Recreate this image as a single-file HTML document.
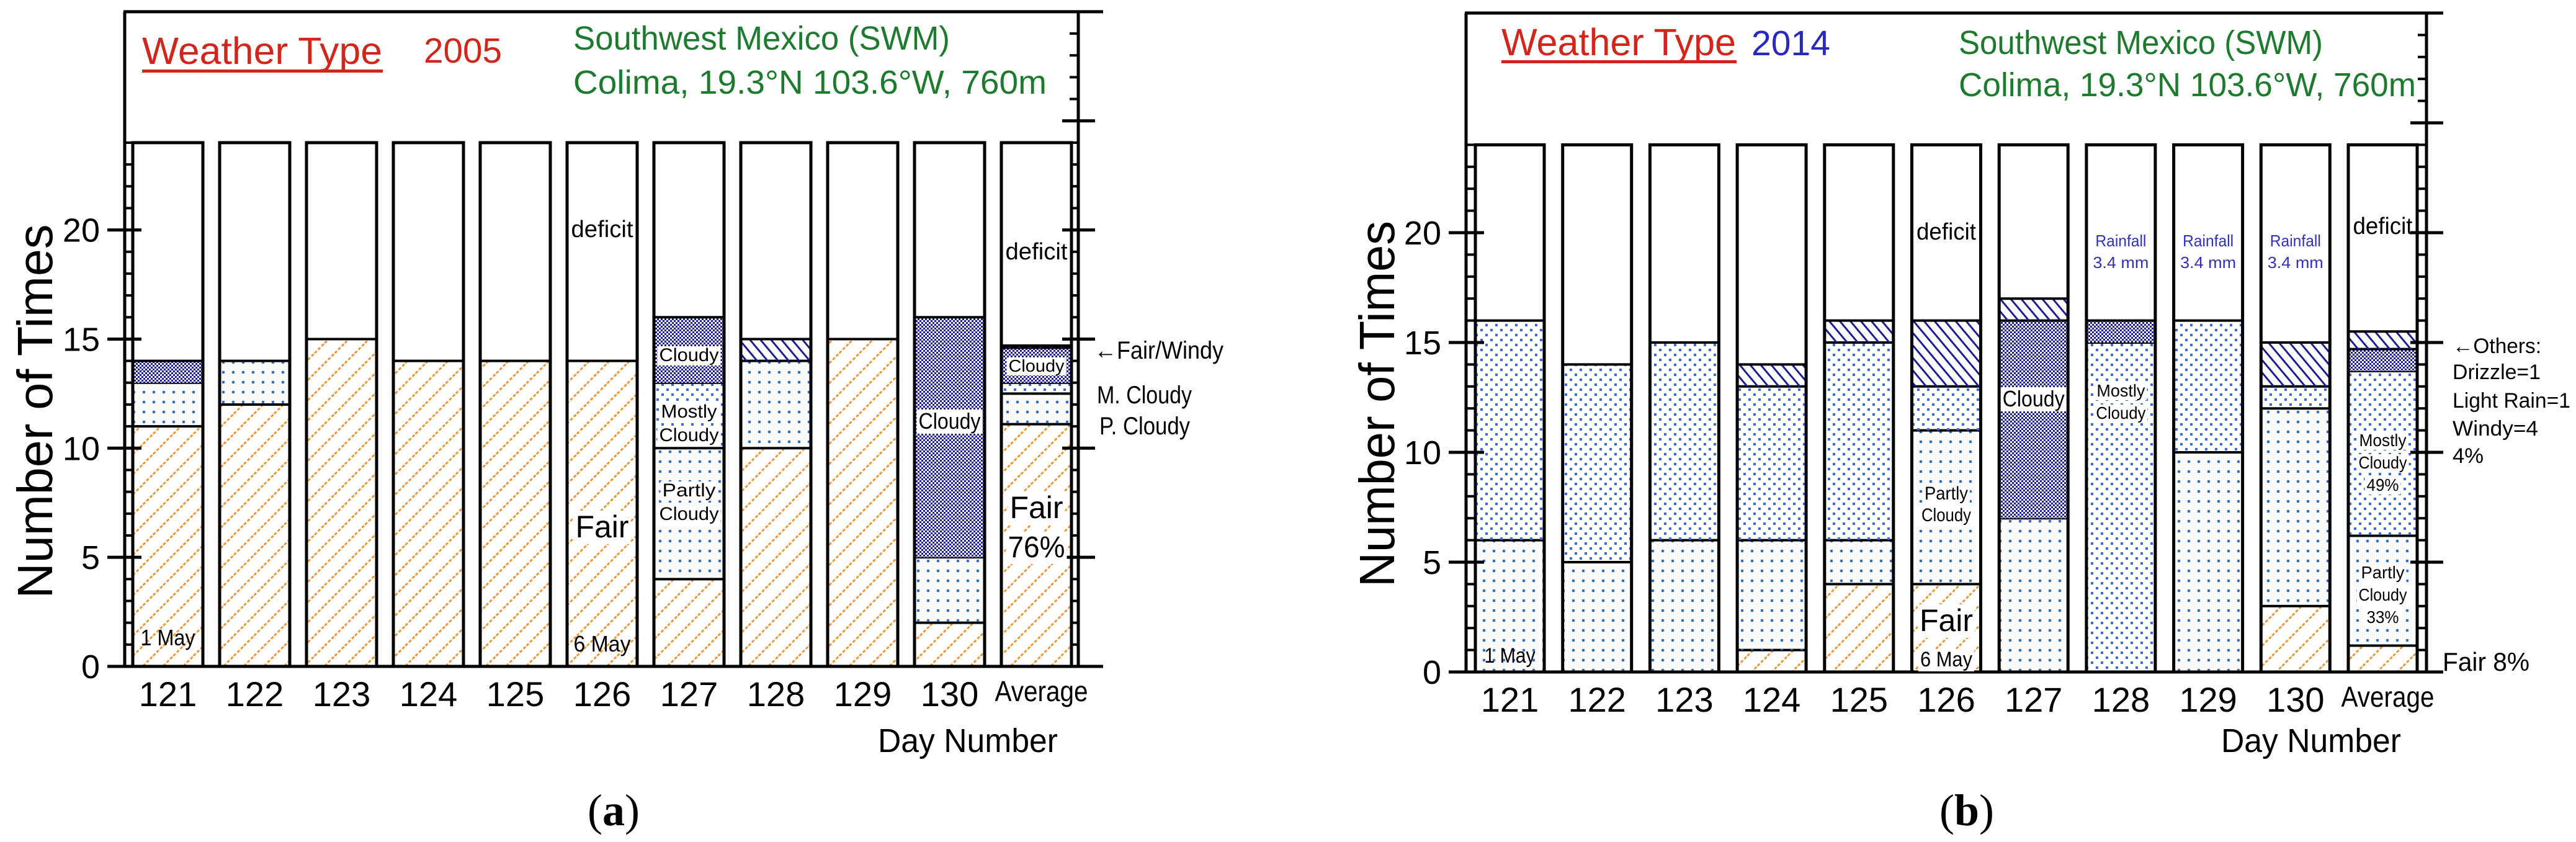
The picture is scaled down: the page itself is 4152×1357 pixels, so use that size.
<!DOCTYPE html>
<html><head><meta charset="utf-8"><style>
html,body{margin:0;padding:0;background:#fff;}
svg{display:block;font-family:"Liberation Sans",sans-serif;}
</style></head><body>
<svg id="chart" xmlns="http://www.w3.org/2000/svg" width="4152" height="1357" viewBox="0 0 4152 1357">
<defs>
<pattern id="pFair" patternUnits="userSpaceOnUse" width="23" height="23" patternTransform="rotate(45)">
<line x1="2" y1="0" x2="2" y2="23" stroke="#e8983c" stroke-width="3" stroke-dasharray="5 3"/></pattern>
<pattern id="pPC" patternUnits="userSpaceOnUse" width="16" height="16">
<rect x="6" y="6" width="4" height="4" fill="#3f6ad6"/></pattern>
<pattern id="pMC" patternUnits="userSpaceOnUse" width="16" height="16">
<rect x="2" y="2" width="4" height="4" fill="#3f6ad6"/><rect x="10" y="10" width="4" height="4" fill="#3f6ad6"/></pattern>
<pattern id="pCl" patternUnits="userSpaceOnUse" width="6" height="6">
<rect width="6" height="6" fill="#fff"/><rect x="0" y="0" width="3" height="3" fill="#1c1c96"/><rect x="3" y="3" width="3" height="3" fill="#1c1c96"/></pattern>
<pattern id="pW" patternUnits="userSpaceOnUse" width="13" height="13" patternTransform="rotate(-40)">
<line x1="2" y1="0" x2="2" y2="13" stroke="#1c1c96" stroke-width="3"/></pattern>
</defs>
<g id="panelA"></g>
<g id="panelB"></g>
</svg>
<script>
const categories = ['121','122','123','124','125','126','127','128','129','130','Average'];
const yTicks = [0,5,10,15,20];
// Panel a (2005)
const fairA    = [11,12,15,14,14,14,4,10,15,2,11.1];
const pcloudyA = [2,2,0,0,0,0,6,4,0,3,1.4];
const mcloudyA = [0,0,0,0,0,0,3,0,0,0,0.5];
const cloudyA  = [1,0,0,0,0,0,3,0,0,11,1.6];
const windyA   = [0,0,0,0,0,0,0,1,0,0,0.1];
// Panel b (2014)
const fairB    = [0,0,0,1,4,4,0,0,0,3,1.2];
const pcloudyB = [6,5,6,5,2,7,7,0,10,9,5.0];
const mcloudyB = [10,9,9,7,9,2,0,15,6,1,7.5];
const cloudyB  = [0,0,0,0,0,0,9,1,0,0,1.0];
const othersB  = [0,0,0,1,1,3,1,0,0,2,0.8];
const maxCount = 24;

const NS='http://www.w3.org/2000/svg';
function mk(parent,tag,attrs,text){
  const e=document.createElementNS(NS,tag);
  for(const k in attrs) e.setAttribute(k,attrs[k]);
  if(text!==undefined) e.textContent=text;
  parent.appendChild(e); return e;
}
function txt(parent,name,x,y,s,size,opts){
  opts=opts||{};
  const t=mk(parent,'text',{x:x,y:y,'font-size':size,fill:opts.fill||'#000','text-anchor':opts.anchor||'middle'},s);
  if(opts.len){t.setAttribute('textLength',opts.len);t.setAttribute('lengthAdjust','spacingAndGlyphs');}
  if(opts.tr) t.setAttribute('transform',opts.tr);
  
  
  if(opts.bg){
    const b=t.getBBox();
    const r=document.createElementNS(NS,'rect');
    r.setAttribute('x',b.x-3);r.setAttribute('y',b.y+2);r.setAttribute('width',b.width+6);r.setAttribute('height',b.height-2);r.setAttribute('fill','#fff');
    
    
    parent.insertBefore(r,t);
  }
  return t;
}

function drawPanel(g,cfg,series){
  const y=v=>cfg.zeroY-v*cfg.unit;
  const xb=i=>cfg.x0+i*cfg.step;
  const rightEnd=cfg.rightEnd;
  // bars
  categories.forEach((c,i)=>{
    const bx=xb(i);
    const bg=mk(g,'g',{});
    
    
    const outline=mk(bg,'rect',{x:bx,y:y(maxCount),width:cfg.bw,height:maxCount*cfg.unit,fill:'#fff'});
    
    
    let base=0;
    series.forEach(s=>{
      const v=s.values[i];
      if(v>0){
        const r=mk(bg,'rect',{x:bx,y:y(base+v),width:cfg.bw,height:v*cfg.unit,fill:'url(#'+s.pat+')'});
        
        
        base+=v;
        const l=mk(bg,'line',{x1:bx,x2:bx+cfg.bw,y1:y(base),y2:y(base),stroke:'#000','stroke-width':4});
        
        
      }
    });
    const o=mk(bg,'rect',{x:bx,y:y(maxCount),width:cfg.bw,height:maxCount*cfg.unit,fill:'none',stroke:'#000','stroke-width':5});
    
    
    const isAvg=c==='Average';
    txt(g,'x-tick-label',bx+cfg.bw/2+(isAvg?8:0),cfg.zeroY+(isAvg?56:64),c,isAvg?46:56,isAvg?{len:150}:{});
  });
  const ax=mk(g,'g',{stroke:'#000','stroke-width':5,fill:'none'});
  
  
  mk(ax,'line',{x1:cfg.frameL,x2:cfg.frameL,y1:y(30),y2:cfg.zeroY});
  mk(ax,'line',{x1:cfg.x0,x2:cfg.x0,y1:y(24),y2:cfg.zeroY});
  mk(ax,'line',{x1:cfg.frameL-2,x2:rightEnd,y1:y(30),y2:y(30)});
  mk(ax,'line',{x1:cfg.frameL-28,x2:rightEnd,y1:cfg.zeroY,y2:cfg.zeroY});
  mk(ax,'line',{x1:cfg.rAxis,x2:cfg.rAxis,y1:y(30),y2:cfg.zeroY});
  const lastR=xb(categories.length-1)+cfg.bw;
  mk(ax,'line',{x1:lastR,x2:lastR,y1:y(24),y2:cfg.zeroY});
  for(let v=1;v<30;v++){
    if(v<=24){
      mk(ax,'line',{x1:cfg.frameL,x2:cfg.x0,y1:y(v),y2:y(v),'stroke-width':4});
      mk(ax,'line',{x1:lastR,x2:cfg.rAxis,y1:y(v),y2:y(v),'stroke-width':4});
    } else {
      mk(ax,'line',{x1:cfg.rAxis-14,x2:cfg.rAxis,y1:y(v),y2:y(v),'stroke-width':4});
    }
  }
  yTicks.concat([25]).forEach(v=>{
    if(v===0) return;
    if(v<25) mk(ax,'line',{x1:cfg.frameL-28,x2:cfg.x0+14,y1:y(v),y2:y(v)});
    mk(ax,'line',{x1:cfg.rAxis-26,x2:cfg.rAxis+27,y1:y(v),y2:y(v)});
  });
  yTicks.forEach(v=>{
    txt(g,'y-tick-label',cfg.frameL-40,y(v)+19,String(v),54,{anchor:'end'});
  });
  txt(g,'y-axis-title',0,0,'Number of Times',80,{len:cfg.titleLen,tr:'translate('+cfg.titleX+','+cfg.titleY+') rotate(-90)'});
  txt(g,'x-axis-title',cfg.dayX,1212,'Day Number',54,{len:290});
}

const gA=document.getElementById('panelA');
const gB=document.getElementById('panelB');
const cfgA={frameL:201,x0:214,step:140,bw:113,zeroY:1074,unit:35.17,rAxis:1738,rightEnd:1778,titleX:84,titleY:663,titleLen:603,dayX:1560};
const cfgB={frameL:2363,x0:2378,step:140.7,bw:111,zeroY:1083,unit:35.4,rAxis:3911,rightEnd:3938,titleX:2247,titleY:651,titleLen:590,dayX:3725};
drawPanel(gA,cfgA,[
  {name:'fair',pat:'pFair',values:fairA},
  {name:'partly-cloudy',pat:'pPC',values:pcloudyA},
  {name:'mostly-cloudy',pat:'pMC',values:mcloudyA},
  {name:'cloudy',pat:'pCl',values:cloudyA},
  {name:'fair-windy',pat:'pW',values:windyA}]);
drawPanel(gB,cfgB,[
  {name:'fair',pat:'pFair',values:fairB},
  {name:'partly-cloudy',pat:'pPC',values:pcloudyB},
  {name:'mostly-cloudy',pat:'pMC',values:mcloudyB},
  {name:'cloudy',pat:'pCl',values:cloudyB},
  {name:'others',pat:'pW',values:othersB}]);

// Panel a annotations
const cx=(cfg,i)=>cfg.x0+i*cfg.step+cfg.bw/2;
txt(gA,'chart-title',229,103,'Weather Type',61,{fill:'#d0261c',anchor:'start',len:387});
const ua=mk(gA,'rect',{x:229,y:112,width:388,height:5,fill:'#d0261c'});


txt(gA,'year-label',683,101,'2005',57,{fill:'#d0261c',anchor:'start',len:126});
txt(gA,'region-label',924,80,'Southwest Mexico (SWM)',54,{fill:'#1e7a2e',anchor:'start',len:607});
txt(gA,'station-label',924,151,'Colima, 19.3°N 103.6°W, 760m',54,{fill:'#1e7a2e',anchor:'start',len:763});
txt(gA,'label-1-may',cx(cfgA,0),1040,'1 May',36,{len:88});
txt(gA,'label-deficit',cx(cfgA,5),382,'deficit',38,{len:100});
txt(gA,'label-fair',cx(cfgA,5),866,'Fair',50,{bg:true});
txt(gA,'label-6-may',cx(cfgA,5),1050,'6 May',36,{len:92});
txt(gA,'label-cloudy-127',cx(cfgA,6),582,'Cloudy',30,{bg:true,len:96});
txt(gA,'label-mostly-127',cx(cfgA,6),673,'Mostly',30,{bg:true,len:90});
txt(gA,'label-cloudy-127b',cx(cfgA,6),711,'Cloudy',30,{bg:true,len:96});
txt(gA,'label-partly-127',cx(cfgA,6),800,'Partly',30,{bg:true,len:86});
txt(gA,'label-cloudy-127c',cx(cfgA,6),838,'Cloudy',30,{bg:true,len:96});
txt(gA,'label-cloudy-130',cx(cfgA,9),691,'Cloudy',36,{bg:true,len:100});
txt(gA,'label-deficit-avg',cx(cfgA,10),418,'deficit',38,{len:100});
txt(gA,'label-cloudy-avg',cx(cfgA,10),599,'Cloudy',28,{bg:true,len:90});
txt(gA,'label-fair-avg',cx(cfgA,10),835,'Fair',50,{bg:true});
txt(gA,'label-76pct',cx(cfgA,10),898,'76%',48,{bg:true,len:92});
txt(gA,'legend-fair-windy',1764,578,'←Fair/Windy',40,{anchor:'start',len:208});
txt(gA,'legend-m-cloudy',1768,650,'M. Cloudy',40,{anchor:'start',len:153});
txt(gA,'legend-p-cloudy',1772,700,'P. Cloudy',40,{anchor:'start',len:146});
const capA=txt(gA,'caption-a',989,1330,'',72,{});
capA.setAttribute('font-family','Liberation Serif, serif');
capA.innerHTML='(<tspan font-weight="bold">a</tspan>)';

// Panel b annotations
txt(gB,'chart-title',2420,89,'Weather Type',61,{fill:'#d0261c',anchor:'start',len:378});
const ub=mk(gB,'rect',{x:2420,y:97,width:379,height:5,fill:'#d0261c'});


txt(gB,'year-label',2823,89,'2014',57,{fill:'#2828c0',anchor:'start',len:127});
txt(gB,'region-label',3157,87,'Southwest Mexico (SWM)',54,{fill:'#1e7a2e',anchor:'start',len:587});
txt(gB,'station-label',3157,155,'Colima, 19.3°N 103.6°W, 760m',54,{fill:'#1e7a2e',anchor:'start',len:737});
txt(gB,'label-1-may',cx(cfgB,0),1068,'1 May',34,{len:82});
txt(gB,'label-deficit',cx(cfgB,5),386,'deficit',38,{len:96});
txt(gB,'label-partly-126',cx(cfgB,5),805,'Partly',30,{bg:true,len:70});
txt(gB,'label-cloudy-126',cx(cfgB,5),840,'Cloudy',30,{bg:true,len:80});
txt(gB,'label-fair',cx(cfgB,5),1017,'Fair',50,{bg:true});
txt(gB,'label-6-may',cx(cfgB,5),1074,'6 May',34,{bg:true,len:84});
txt(gB,'label-cloudy-127',cx(cfgB,6),655,'Cloudy',36,{bg:true,len:100});
txt(gB,'label-mostly-128',cx(cfgB,7),639,'Mostly',28,{bg:true,len:78});
txt(gB,'label-cloudy-128',cx(cfgB,7),675,'Cloudy',28,{bg:true,len:80});
[7,8,9].forEach(i=>{
  txt(gB,'label-rainfall',cx(cfgB,i),397,'Rainfall',26,{fill:'#3030b8',len:82});
  txt(gB,'label-rainfall-amount',cx(cfgB,i),432,'3.4 mm',26,{fill:'#3030b8',len:90});
});
txt(gB,'label-deficit-avg',cx(cfgB,10),377,'deficit',38,{len:96});
txt(gB,'label-mostly-avg',cx(cfgB,10),719,'Mostly',28,{bg:true,len:76});
txt(gB,'label-cloudy-avg',cx(cfgB,10),755,'Cloudy',28,{bg:true,len:78});
txt(gB,'label-49pct',cx(cfgB,10),791,'49%',28,{bg:true,len:52});
txt(gB,'label-partly-avg',cx(cfgB,10),932,'Partly',28,{bg:true,len:70});
txt(gB,'label-cloudy-avg2',cx(cfgB,10),968,'Cloudy',28,{bg:true,len:78});
txt(gB,'label-33pct',cx(cfgB,10),1004,'33%',28,{bg:true,len:52});
txt(gB,'legend-others',3953,569,'←Others:',34,{anchor:'start',len:143});
txt(gB,'legend-drizzle',3953,611,'Drizzle=1',34,{anchor:'start',len:142});
txt(gB,'legend-light-rain',3953,657,'Light Rain=1',34,{anchor:'start',len:190});
txt(gB,'legend-windy',3953,702,'Windy=4',34,{anchor:'start',len:138});
txt(gB,'legend-4pct',3953,746,'4%',34,{anchor:'start',len:50});
txt(gB,'legend-fair-8pct',3937,1081,'Fair 8%',42,{anchor:'start',len:140});
const capB=txt(gB,'caption-b',3170,1330,'',72,{});
capB.setAttribute('font-family','Liberation Serif, serif');
capB.innerHTML='(<tspan font-weight="bold">b</tspan>)';
</script>
</body></html>
